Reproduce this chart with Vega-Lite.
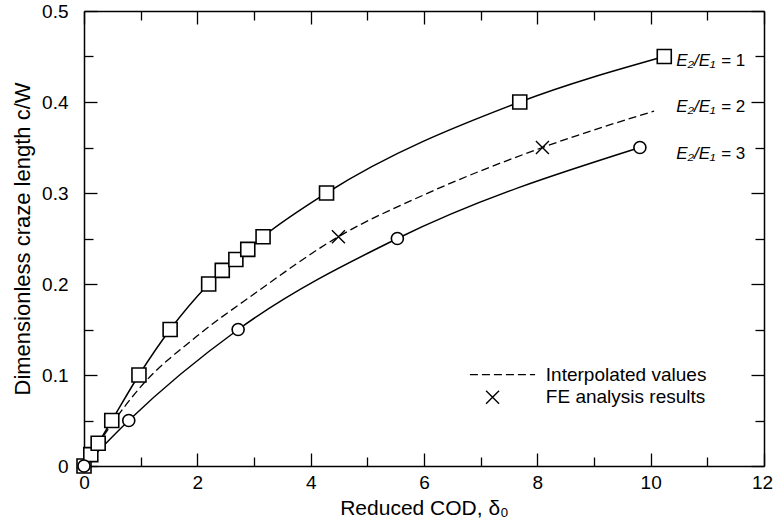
{
  "$schema": "https://vega.github.io/schema/vega-lite/v6.json",
  "width": 680,
  "height": 455,
  "autosize": {"type": "none"},
  "padding": {"left": 84, "top": 11, "right": 9, "bottom": 64},
  "background": "white",
  "config": {
    "view": {"stroke": null},
    "font": "Liberation Sans",
    "axis": {
      "grid": false,
      "labelFlush": false,
      "labelOverlap": false,
      "domainColor": "black",
      "domainWidth": 1.5,
      "tickColor": "black",
      "tickWidth": 1.3,
      "labelColor": "black",
      "titleColor": "black",
      "labelFont": "Liberation Sans",
      "titleFont": "Liberation Sans",
      "labelFontSize": 19,
      "titleFontSize": 21,
      "titleFontWeight": "normal"
    }
  },
  "datasets": {
    "sq": [
      {"x": 0, "y": 0},
      {"x": 0.12, "y": 0.0125},
      {"x": 0.25, "y": 0.025},
      {"x": 0.49, "y": 0.05},
      {"x": 0.97, "y": 0.1},
      {"x": 1.52, "y": 0.15},
      {"x": 2.2, "y": 0.2},
      {"x": 2.44, "y": 0.215},
      {"x": 2.68, "y": 0.227},
      {"x": 2.89, "y": 0.238},
      {"x": 3.16, "y": 0.252},
      {"x": 4.28, "y": 0.3},
      {"x": 7.69, "y": 0.4},
      {"x": 10.24, "y": 0.45}
    ],
    "ci": [
      {"x": 0, "y": 0},
      {"x": 0.79, "y": 0.05},
      {"x": 2.72, "y": 0.15},
      {"x": 5.53, "y": 0.25},
      {"x": 9.81, "y": 0.35}
    ],
    "dash": [
      {"x": 0, "y": 0},
      {"x": 0.5, "y": 0.047},
      {"x": 1.0, "y": 0.087},
      {"x": 2.0, "y": 0.143},
      {"x": 3.0, "y": 0.189},
      {"x": 4.49, "y": 0.252},
      {"x": 6.0, "y": 0.298},
      {"x": 8.09, "y": 0.35},
      {"x": 10.06, "y": 0.39}
    ],
    "fe": [
      {"x": 4.49, "y": 0.252},
      {"x": 8.09, "y": 0.35}
    ],
    "lab": [
      {"x": 10.45, "y": 0.4456, "a": "E₂/E₁", "b": "= 1"},
      {"x": 10.45, "y": 0.395, "a": "E₂/E₁", "b": "= 2"},
      {"x": 10.45, "y": 0.343, "a": "E₂/E₁", "b": "= 3"}
    ],
    "legline": [
      {"x": 6.81, "y": 0.1005},
      {"x": 7.96, "y": 0.1005}
    ],
    "legcross": [
      {"x": 7.21, "y": 0.0756}
    ],
    "legtext": [
      {"x": 8.15, "y": 0.1005, "t": "Interpolated values"},
      {"x": 8.15, "y": 0.0756, "t": "FE analysis results"}
    ]
  },
  "resolve": {"axis": {"x": "independent", "y": "independent"}},
  "layer": [
    {
      "data": {"name": "sq"},
      "mark": {"type": "line", "interpolate": "monotone", "color": "black", "strokeWidth": 1.5},
      "encoding": {
        "x": {"field": "x", "type": "quantitative", "scale": {"domain": [0, 12], "nice": false},
          "axis": {"orient": "bottom", "values": [0, 2, 4, 6, 8, 10, 12], "tickSize": -13, "labelPadding": 20,
            "labelOffset": {"condition": {"test": "datum.value == 12", "value": -2}, "value": 0},
            "title": "Reduced COD, δ₀", "titlePadding": 5}},
        "y": {"field": "y", "type": "quantitative", "scale": {"domain": [0, 0.5], "nice": false},
          "axis": {"orient": "left", "values": [0, 0.1, 0.2, 0.3, 0.4, 0.5], "format": "~g", "tickSize": -13, "labelPadding": 29, "title": "Dimensionless craze length c/W", "titleFontSize": 22, "titlePadding": 7}}
      }
    },
    {
      "data": {"name": "ci"},
      "mark": {"type": "line", "interpolate": "monotone", "color": "black", "strokeWidth": 1.5},
      "encoding": {
        "x": {"field": "x", "type": "quantitative", "scale": {"domain": [0, 12], "nice": false},
          "axis": {"orient": "bottom", "values": [1, 3, 5, 7, 9, 11], "tickSize": -9, "labels": false, "domain": false, "title": null}},
        "y": {"field": "y", "type": "quantitative", "scale": {"domain": [0, 0.5], "nice": false},
          "axis": {"orient": "left", "values": [0.05, 0.15, 0.25, 0.35, 0.45], "tickSize": -9, "labels": false, "domain": false, "title": null}}
      }
    },
    {
      "data": {"name": "dash"},
      "mark": {"type": "line", "interpolate": "monotone", "color": "black", "strokeWidth": 1.3, "strokeDash": [8, 4]},
      "encoding": {
        "x": {"field": "x", "type": "quantitative", "scale": {"domain": [0, 12], "nice": false},
          "axis": {"orient": "top", "values": [0, 2, 4, 6, 8, 10, 12], "tickSize": -13, "labels": false, "title": null}},
        "y": {"field": "y", "type": "quantitative", "scale": {"domain": [0, 0.5], "nice": false},
          "axis": {"orient": "right", "values": [0, 0.1, 0.2, 0.3, 0.4, 0.5], "tickSize": -13, "labels": false, "title": null}}
      }
    },
    {
      "data": {"name": "sq"},
      "mark": {"type": "point", "shape": "square", "size": 196, "filled": true, "fill": "white", "stroke": "black", "strokeWidth": 1.6, "opacity": 1},
      "encoding": {
        "x": {"field": "x", "type": "quantitative", "scale": {"domain": [0, 12], "nice": false},
          "axis": {"orient": "top", "values": [1, 3, 5, 7, 9, 11], "tickSize": -9, "labels": false, "domain": false, "title": null}},
        "y": {"field": "y", "type": "quantitative", "scale": {"domain": [0, 0.5], "nice": false},
          "axis": {"orient": "right", "values": [0.05, 0.15, 0.25, 0.35, 0.45], "tickSize": -9, "labels": false, "domain": false, "title": null}}
      }
    },
    {
      "data": {"name": "ci"},
      "mark": {"type": "point", "shape": "circle", "size": 145, "filled": true, "fill": "white", "stroke": "black", "strokeWidth": 1.6, "opacity": 1},
      "encoding": {
        "x": {"field": "x", "type": "quantitative", "axis": null},
        "y": {"field": "y", "type": "quantitative", "axis": null}
      }
    },
    {
      "data": {"name": "fe"},
      "mark": {"type": "point", "shape": "M-1,-1L1,1M-1,1L1,-1", "size": 169, "filled": false, "stroke": "black", "strokeWidth": 1.4, "opacity": 1},
      "encoding": {
        "x": {"field": "x", "type": "quantitative", "axis": null},
        "y": {"field": "y", "type": "quantitative", "axis": null}
      }
    },
    {
      "data": {"name": "lab"},
      "mark": {"type": "text", "align": "left", "baseline": "middle", "fontStyle": "italic", "fontSize": 17, "color": "black"},
      "encoding": {
        "x": {"field": "x", "type": "quantitative", "axis": null},
        "y": {"field": "y", "type": "quantitative", "axis": null},
        "text": {"field": "a"}
      }
    },
    {
      "data": {"name": "lab"},
      "mark": {"type": "text", "align": "left", "baseline": "middle", "fontSize": 17, "color": "black", "dx": 45},
      "encoding": {
        "x": {"field": "x", "type": "quantitative", "axis": null},
        "y": {"field": "y", "type": "quantitative", "axis": null},
        "text": {"field": "b"}
      }
    },
    {
      "data": {"name": "legline"},
      "mark": {"type": "line", "color": "black", "strokeWidth": 1.3, "strokeDash": [8, 4]},
      "encoding": {
        "x": {"field": "x", "type": "quantitative", "axis": null},
        "y": {"field": "y", "type": "quantitative", "axis": null}
      }
    },
    {
      "data": {"name": "legcross"},
      "mark": {"type": "point", "shape": "M-1,-1L1,1M-1,1L1,-1", "size": 169, "filled": false, "stroke": "black", "strokeWidth": 1.4, "opacity": 1},
      "encoding": {
        "x": {"field": "x", "type": "quantitative", "axis": null},
        "y": {"field": "y", "type": "quantitative", "axis": null}
      }
    },
    {
      "data": {"name": "legtext"},
      "mark": {"type": "text", "align": "left", "baseline": "middle", "fontSize": 19, "color": "black"},
      "encoding": {
        "x": {"field": "x", "type": "quantitative", "axis": null},
        "y": {"field": "y", "type": "quantitative", "axis": null},
        "text": {"field": "t"}
      }
    }
  ]
}
